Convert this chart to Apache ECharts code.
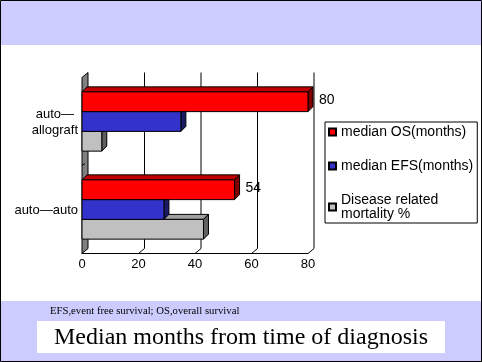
<!DOCTYPE html>
<html>
<head>
<meta charset="utf-8">
<script src="https://cdn.jsdelivr.net/npm/echarts@6/dist/echarts.min.js"></script>
<style>
html,body{margin:0;padding:0;background:#fff;}
#c{width:482px;height:362px;}
</style>
</head>
<body>
<div id="c"></div>
<script>
const categories = ['auto—\nallograft', 'auto—auto'];
const seriesNames = ['median OS(months)', 'median EFS(months)', 'Disease related\nmortality %'];
const osValues = [80, 54];
const efsValues = [35, 29];
const mortalityValues = [7, 43];
const xTicks = [0, 20, 40, 60, 80];
const footnote = 'EFS,event free survival; OS,overall survival';
const titleText = 'Median months from time of diagnosis';

const SANS = '"Liberation Sans", Arial, sans-serif';
const SERIF = '"Liberation Serif", "Times New Roman", serif';
const FD = [6, -5];   // frame depth
const BD = [5, -5];   // bar depth
const faces = [
  { front: '#FF0000', top: '#C00000', side: '#800000' },
  { front: '#3333CC', top: '#2626A0', side: '#1A1A66' },
  { front: '#C0C0C0', top: '#A0A0A0', side: '#606060' }
];
const allValues = [osValues, efsValues, mortalityValues];

function makeBarRender(s) {
  return function (params, api) {
    const v = api.value(0), c = api.value(1);
    const p = api.coord([v, c]);
    const p0 = api.coord([0, c]);
    const band = api.size([0, 1])[1];
    const h = band * 0.2245;
    const t = p[1] - 1.5 * h + s * h;
    const x0 = p0[0], x1 = p[0];
    const f = faces[s];
    const st = (fill) => ({ fill: fill, stroke: '#000', lineWidth: 1 });
    const children = [
      { type: 'polygon', shape: { points: [[x0, t], [x0 + BD[0], t + BD[1]], [x1 + BD[0], t + BD[1]], [x1, t]] }, style: st(f.top) },
      { type: 'polygon', shape: { points: [[x1, t], [x1 + BD[0], t + BD[1]], [x1 + BD[0], t + h + BD[1]], [x1, t + h]] }, style: st(f.side) },
      { type: 'rect', shape: { x: x0, y: t, width: x1 - x0, height: h }, style: st(f.front) }
    ];
    if (s === 0) {
      children.push({ type: 'text', style: { text: String(v), x: x1 + BD[0] + 6, y: t + h / 2 - 1.5, fill: '#000', font: '14px ' + SANS, align: 'left', verticalAlign: 'middle' } });
    }
    return { type: 'group', children: children };
  };
}

function renderFrame(params, api) {
  const v = api.value(0);
  const cs = params.coordSys;
  const top = cs.y, bottom = cs.y + cs.height;
  const x = api.coord([v, 0])[0];
  const ls = { stroke: '#000', lineWidth: 1, fill: null };
  if (v === 0) {
    const yb = (api.coord([0, 0])[1] + api.coord([0, 1])[1]) / 2;
    return { type: 'group', children: [
      { type: 'polygon', shape: { points: [[x, top], [x + FD[0], top + FD[1]], [x + FD[0], bottom + FD[1]], [x, bottom]] }, style: { fill: '#808080', stroke: '#000', lineWidth: 1 } },
      { type: 'line', shape: { x1: x, y1: yb, x2: x + 3, y2: yb - 2 }, style: ls }
    ] };
  }
  return { type: 'group', children: [
    { type: 'line', shape: { x1: x + FD[0], y1: top + FD[1], x2: x + FD[0], y2: bottom + FD[1] }, style: ls },
    { type: 'line', shape: { x1: x + FD[0], y1: bottom + FD[1], x2: x, y2: bottom }, style: ls }
  ] };
}

const chart = echarts.init(document.getElementById('c'), null, { renderer: 'canvas' });

const series = [{
  type: 'custom', name: '_frame', z: 1, clip: false, silent: true,
  renderItem: renderFrame,
  encode: { x: 0, y: 1 },
  data: xTicks.map(v => [v, 0])
}];
seriesNames.forEach((n, s) => {
  series.push({
    type: 'custom', name: n, z: 5 - s, clip: false,
    renderItem: makeBarRender(s),
    encode: { x: 0, y: 1 },
    itemStyle: { color: faces[s].front, borderColor: '#000', borderWidth: 1 },
    data: allValues[s].map((v, i) => [v, i])
  });
});

chart.setOption({
  animation: false,
  backgroundColor: '#fff',
  grid: { left: 82, top: 77.5, width: 226, height: 176, containLabel: false, outerBoundsMode: 'none' },
  xAxis: {
    type: 'value', min: 0, max: 80, interval: 20,
    axisLine: { show: true, lineStyle: { color: '#000', width: 1 } },
    axisTick: { show: false },
    splitLine: { show: false },
    axisLabel: { color: '#000', fontSize: 13, fontFamily: SANS, margin: 4 }
  },
  yAxis: {
    type: 'category', data: categories, inverse: true,
    axisLine: { show: false }, axisTick: { show: false }, splitLine: { show: false },
    axisLabel: {
      margin: 4, color: '#000',
      formatter: (val) => val.split('\n').map(l => '{a|' + l + '}').join('\n'),
      rich: { a: { align: 'center', fontSize: 13, lineHeight: 16, fontFamily: SANS, color: '#000', padding: [2, 0, 0, 0] } }
    }
  },
  legend: {
    orient: 'vertical', left: 325, top: 122,
    data: seriesNames,
    icon: 'rect', itemWidth: 7, itemHeight: 7, itemGap: 20,
    padding: [3, 4, 2, 3],
    borderColor: '#000', borderWidth: 1, backgroundColor: '#fff',
    textStyle: { color: '#000', fontSize: 14, lineHeight: 14, fontFamily: SANS },
    selectedMode: false
  },
  graphic: [
    { type: 'rect', z: -10, shape: { x: 0.5, y: 0.5, width: 481, height: 361 }, style: { fill: '#fff', stroke: '#000', lineWidth: 1 } },
    { type: 'rect', z: -9, shape: { x: 1, y: 1, width: 480, height: 44 }, style: { fill: '#CCCCFF' } },
    { type: 'rect', z: -9, shape: { x: 1, y: 301, width: 480, height: 60 }, style: { fill: '#CCCCFF' } },
    { type: 'rect', z: -8, shape: { x: 37, y: 321, width: 408, height: 32 }, style: { fill: '#fff' } },
    { type: 'text', z: 10, x: 50, y: 311, style: { text: footnote, font: '10.7px ' + SERIF, fill: '#000', align: 'left', verticalAlign: 'middle' } },
    { type: 'text', z: 10, x: 241, y: 338, style: { text: titleText, font: '24px ' + SERIF, fill: '#000', align: 'center', verticalAlign: 'middle' } }
  ],
  series: series
});
</script>
</body>
</html>
